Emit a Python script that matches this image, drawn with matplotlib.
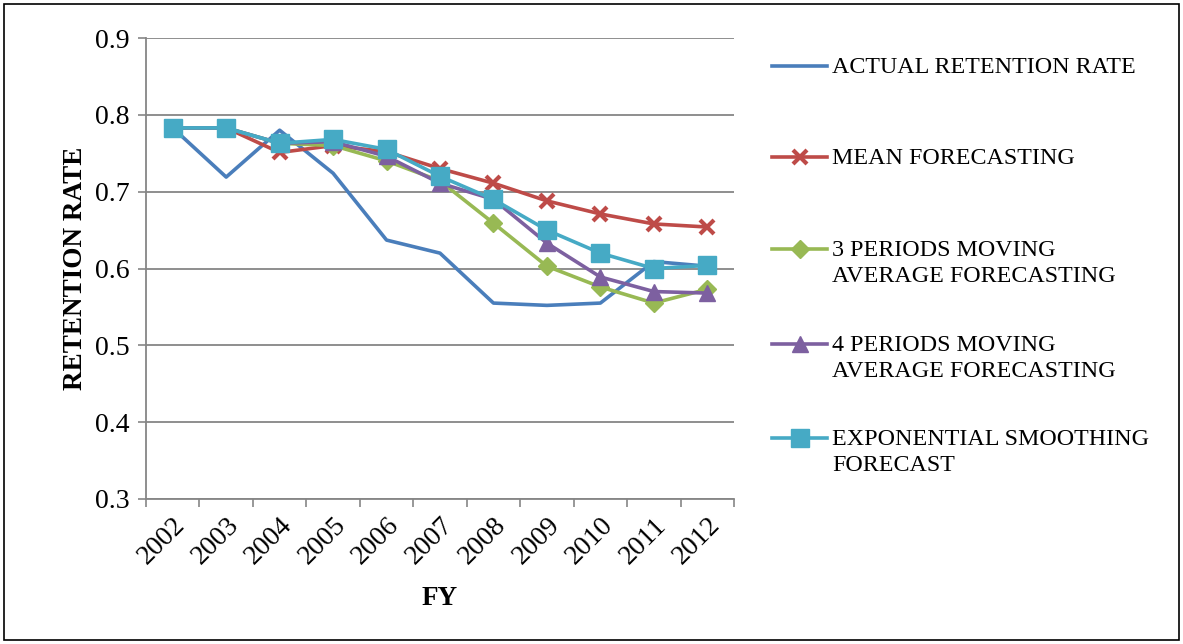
import matplotlib.pyplot as plt
from matplotlib.lines import Line2D
from matplotlib.patches import Rectangle

years = ['2002', '2003', '2004', '2005', '2006', '2007',
         '2008', '2009', '2010', '2011', '2012']

actual = [0.783, 0.719, 0.780, 0.724, 0.637, 0.620, 0.555, 0.552, 0.555, 0.609, 0.603]
mean_fc = [0.783, 0.783, 0.751, 0.760, 0.752, 0.730, 0.711, 0.688, 0.671, 0.658, 0.654]
ma3_fc = [0.783, 0.783, 0.763, 0.760, 0.740, 0.714, 0.659, 0.603, 0.576, 0.555, 0.573]
ma4_fc = [0.783, 0.783, 0.763, 0.765, 0.746, 0.711, 0.690, 0.633, 0.589, 0.570, 0.568]
exp_fc = [0.783, 0.783, 0.763, 0.768, 0.755, 0.720, 0.690, 0.650, 0.620, 0.600, 0.604]

labels = ['ACTUAL RETENTION RATE', 'MEAN FORECASTING',
          '3 PERIODS MOVING\nAVERAGE FORECASTING',
          '4 PERIODS MOVING\nAVERAGE FORECASTING',
          'EXPONENTIAL SMOOTHING\nFORECAST']

plt.rcParams['font.family'] = ['Liberation Serif', 'DejaVu Serif']

W, H = 1183, 644
fig = plt.figure(figsize=(W / 100, H / 100), dpi=100)
ax = fig.add_axes([146 / W, 1 - 499 / H, (734 - 146) / W, (499 - 38) / H])

styles = [
    dict(color='#4A7EBB', marker=None),
    dict(color='#BE4B48', marker='x', ms=10, mew=3),
    dict(color='#98B954', marker='D', ms=9.5),
    dict(color='#7D60A0', marker='^', ms=12),
    dict(color='#46AAC5', marker='s', ms=13),
]
series = [actual, mean_fc, ma3_fc, ma4_fc, exp_fc]
x = list(range(len(years)))
for vals, st in zip(series, styles):
    ax.plot(x, vals, lw=2.6, solid_joinstyle='round', **st)

ax.set_xlim(-0.5, len(years) - 0.5)
ax.set_ylim(0.3, 0.9)
ax.set_yticks([0.3, 0.4, 0.5, 0.6, 0.7, 0.8, 0.9])
ax.set_yticklabels(['0.3', '0.4', '0.5', '0.6', '0.7', '0.8', '0.9'], fontsize=20)
ax.set_xticks(x)
ax.set_xticklabels(years, rotation=45, fontsize=20, ha='right', rotation_mode='anchor')
ax.set_xticks([i - 0.5 for i in range(len(years) + 1)], minor=True)
ax.tick_params(axis='x', which='major', length=0, pad=10)
ax.tick_params(axis='x', which='minor', length=6, color='#868686', width=1.2)
ax.tick_params(axis='y', length=6, color='#868686', width=1.2, pad=6)
ax.grid(axis='y', color='#868686', lw=1.3)
ax.set_axisbelow(True)
for s in ['top', 'right']:
    ax.spines[s].set_visible(False)
for s in ['left', 'bottom']:
    ax.spines[s].set_color('#868686')
    ax.spines[s].set_linewidth(1.3)

ax.set_ylabel('RETENTION RATE', fontsize=19.5, fontweight='bold', labelpad=5)
ax.set_xlabel('FY', fontsize=19.5, fontweight='bold', labelpad=12)

# legend drawn by hand so markers sit on the first text line
leg_y = [66, 157, 249, 344, 438]
for (ly, lab, st) in zip(leg_y, labels, styles):
    yf = 1 - ly / H
    fig.add_artist(Line2D([772 / W, 827 / W], [yf, yf], lw=2.6,
                          transform=fig.transFigure, color=st['color']))
    if st.get('marker'):
        fig.add_artist(Line2D([800 / W], [yf], transform=fig.transFigure, ls='',
                              color=st['color'], marker=st['marker'],
                              ms=st.get('ms'), mew=st.get('mew', 1)))
    fig.text(832 / W, yf + 9 / H, lab, fontsize=17.3, va='top', ha='left',
             linespacing=1.32, transform=fig.transFigure)

fig.add_artist(Rectangle((4 / W, 4 / H), (W - 8) / W, (H - 8) / H,
                         transform=fig.transFigure, fill=False,
                         edgecolor='black', lw=1.2))

fig.savefig('out.png', dpi=100)
